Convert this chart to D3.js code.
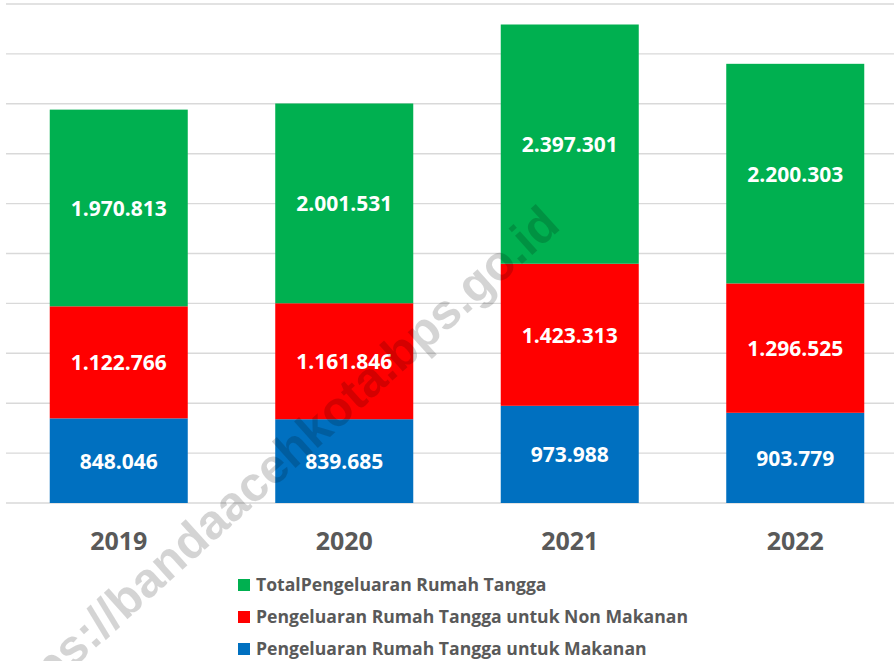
<!DOCTYPE html>
<html lang="id">
<head>
    <meta charset="UTF-8">
    <title>Pengeluaran Rumah Tangga 2019-2022</title>
    <script src="https://d3js.org/d3.v7.min.js"></script>
    <style>
        html, body { margin: 0; padding: 0; background: #fff; }
        svg { display: block; overflow: hidden; }
        .bar-label { fill: #fff; font: bold 21px "Open Sans", sans-serif; }
        .year-label { fill: #595959; font: bold 25px "Open Sans", sans-serif; }
        .legend-text { fill: #595959; font: bold 17.6px "Open Sans", sans-serif; }
        .watermark { fill: #000; fill-opacity: 0.17; font: bold 49px "Liberation Sans", Arial, sans-serif; }
    </style>
</head>
<body>
<svg id="chart" width="894" height="661"></svg>
<script>
    // data
    const years = ["2019", "2020", "2021", "2022"];
    const makanan = [848046, 839685, 973988, 903779];
    const nonMakanan = [1122766, 1161846, 1423313, 1296525];
    const totalPengeluaran = [1970813, 2001531, 2397301, 2200303];
    const gridTicks = [0, 500000, 1000000, 1500000, 2000000, 2500000, 3000000, 3500000, 4000000, 4500000, 5000000];

    const seriesNames = [
        "Pengeluaran Rumah Tangga untuk Makanan",
        "Pengeluaran Rumah Tangga untuk Non Makanan",
        "TotalPengeluaran Rumah Tangga"
    ];
    const seriesColors = ["#0070C0", "#FF0000", "#00B050"];
    const seriesValues = [makanan, nonMakanan, totalPengeluaran];

    const svg = d3.select("#chart");

    const x = d3.scaleBand().domain(years).range([6, 908])
        .paddingInner(0.388).paddingOuter(0.194);
    const y = d3.scaleLinear().domain([0, 5000000]).range([503, 4]);

    const idLocale = d3.formatLocale({ decimal: ",", thousands: ".", grouping: [3], currency: ["Rp", ""] });
    const fmt = idLocale.format(",d");

    // gridlines
    svg.append("g")
        .selectAll("line")
        .data(gridTicks)
        .join("line")
        .attr("x1", 6).attr("x2", 908)
        .attr("y1", d => y(d)).attr("y2", d => y(d))
        .attr("stroke", "#d9d9d9")
        .attr("stroke-width", 1.4);

    // stacked rows
    const rows = years.map((yr, i) => {
        const r = { year: yr };
        seriesNames.forEach((s, k) => r[s] = seriesValues[k][i]);
        return r;
    });
    const stacked = d3.stack().keys(seriesNames)(rows);

    const layers = svg.append("g")
        .selectAll("g")
        .data(stacked)
        .join("g")
        .attr("fill", (d, k) => seriesColors[k]);

    layers.selectAll("rect")
        .data(d => d)
        .join("rect")
        .attr("x", d => x(d.data.year))
        .attr("width", x.bandwidth())
        .attr("y", d => y(d[1]))
        .attr("height", d => y(d[0]) - y(d[1]));

    layers.selectAll("text")
        .data(d => d)
        .join("text")
        .attr("class", "bar-label")
        .attr("x", d => x(d.data.year) + x.bandwidth() / 2)
        .attr("y", d => (y(d[0]) + y(d[1])) / 2)
        .attr("text-anchor", "middle")
        .attr("dominant-baseline", "central")
        .text(d => fmt(d[1] - d[0]));

    // year axis labels
    svg.append("g")
        .selectAll("text")
        .data(years)
        .join("text")
        .attr("class", "year-label")
        .attr("x", d => x(d) + x.bandwidth() / 2)
        .attr("y", 550)
        .attr("text-anchor", "middle")
        .text(d => d);

    // legend (top to bottom: total, non makanan, makanan)
    const legendOrder = [2, 1, 0];
    const legend = svg.append("g")
        .selectAll("g")
        .data(legendOrder)
        .join("g")
        .attr("transform", (k, i) => `translate(238,${579 + i * 32})`);
    legend.append("rect")
        .attr("width", 12).attr("height", 12)
        .attr("fill", k => seriesColors[k]);
    legend.append("text")
        .attr("class", "legend-text")
        .attr("x", 18)
        .attr("y", 12)
        .text(k => seriesNames[k]);

    // watermark
    svg.append("text")
        .attr("class", "watermark")
        .attr("text-anchor", "end")
        .attr("transform", "translate(562,228) rotate(-42)")
        .text("https://bandaacehkota.bps.go.id");
</script>
</body>
</html>
